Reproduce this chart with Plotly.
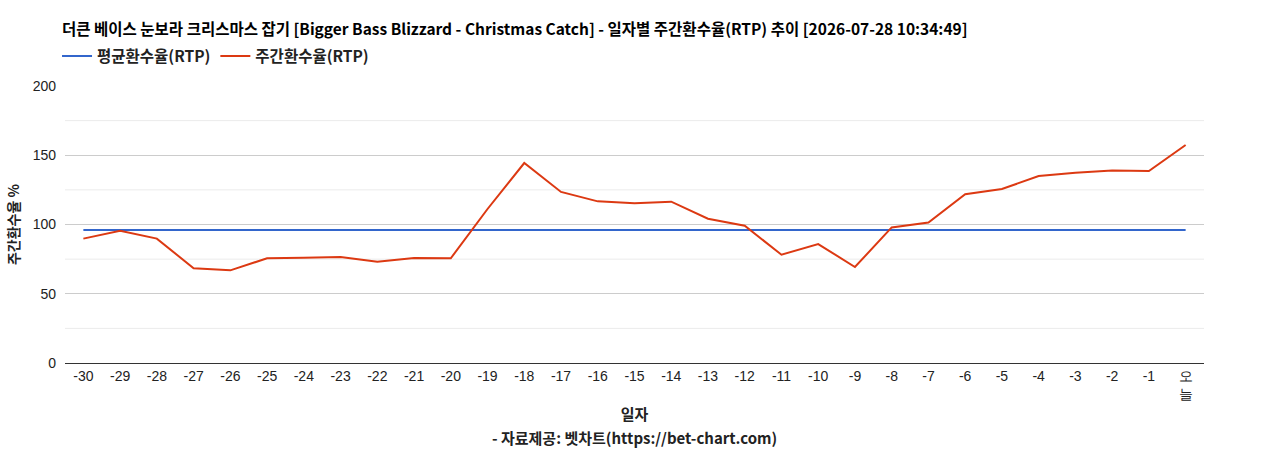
import plotly.graph_objects as go

days = [str(d) for d in range(-30, 0)] + ["오늘"]
weekly_rtp = [89.8, 95.5, 89.8, 68.4, 66.9, 75.6, 76.0, 76.5, 73.1, 75.8,
              75.6, 111.2, 144.4, 123.5, 116.7, 115.3, 116.5, 104.2, 99.1, 78.2,
              85.9, 69.3, 97.9, 101.5, 121.8, 125.6, 135.0, 137.4, 138.9, 138.6,
              157.4]
avg_rtp = [96.0] * len(days)
tick_text = [d if d != "오늘" else "오<br>늘" for d in days]
y_ticks = [0, 50, 100, 150, 200]
minor_ticks = [25, 75, 125, 175]

title_text = "더큰 베이스 눈보라 크리스마스 잡기 [Bigger Bass Blizzard - Christmas Catch] - 일자별 주간환수율(RTP) 추이 [2026-07-28 10:34:49]"

KFONT = "Noto Sans CJK KR"
AFONT = "Liberation Sans, Arial"

fig = go.Figure()
fig.add_trace(go.Scatter(x=days, y=avg_rtp, mode="lines", name="<b>평균환수율(RTP)</b>",
                         line=dict(color="#3366cc", width=2)))
fig.add_trace(go.Scatter(x=days, y=weekly_rtp, mode="lines", name="<b>주간환수율(RTP)</b>",
                         line=dict(color="#dc3912", width=2)))

for m in minor_ticks:
    fig.add_shape(type="line", xref="paper", yref="y", x0=0, x1=1, y0=m, y1=m,
                  line=dict(color="#ebebeb", width=1), layer="below")

fig.update_layout(
    width=1268, height=450,
    margin=dict(l=65, r=64, t=86, b=87),
    paper_bgcolor="white", plot_bgcolor="white",
    title=dict(text="<b>" + title_text + "</b>", x=62/1268, xanchor="left",
               y=1 - 30/450, yanchor="middle",
               font=dict(family=KFONT, size=15.5, color="#000")),
    legend=dict(orientation="h", x=-0.007, xanchor="left", y=1.045, yanchor="bottom",
                font=dict(family=KFONT, size=15.5, color="#222"),
                itemwidth=30, tracegroupgap=0, bgcolor="rgba(0,0,0,0)"),
    xaxis=dict(type="category", tickmode="array", tickvals=days, ticktext=tick_text,
               showgrid=False, showline=True, linecolor="#333", linewidth=1,
               ticks="", tickfont=dict(family=AFONT, size=14, color="#222"),
               title=dict(text="<b>일자</b>", font=dict(family=KFONT, size=15, color="#222"),
                          standoff=8),
               range=[-0.5, len(days) - 0.5]),
    yaxis=dict(range=[0, 200], tickvals=y_ticks, showgrid=True, gridcolor="#cccccc",
               gridwidth=1, zeroline=False, showline=False, ticks="",
               ticklabelstandoff=8,
               tickfont=dict(family=AFONT, size=14, color="#222"),
               title=dict(text="<b>주간환수율 %</b>", font=dict(family=KFONT, size=14, color="#222"),
                          standoff=9)),
    hovermode=False,
)

fig.add_annotation(text="<b>- 자료제공: 벳차트(https://bet-chart.com)</b>",
                   xref="paper", yref="paper", x=0.5, y=-(437-363)/277,
                   xanchor="center", yanchor="middle", showarrow=False,
                   font=dict(family=KFONT, size=15, color="#222"))

fig.write_html("out.html")
